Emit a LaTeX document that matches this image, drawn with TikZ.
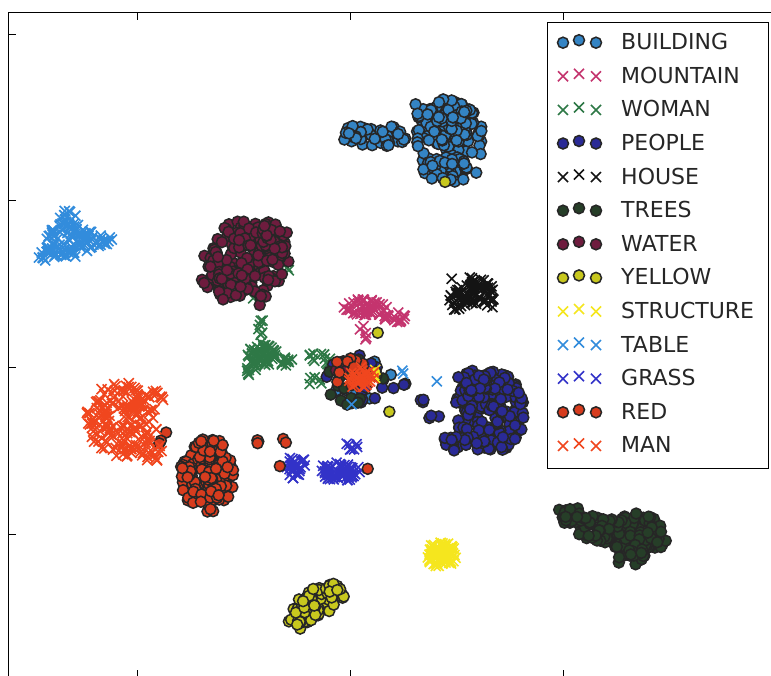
\documentclass[tikz,border=0pt]{standalone}
\usepackage{fontspec}
\setmainfont{DejaVu Sans}
\definecolor{buildingc}{RGB}{52,132,196}
\definecolor{mountainc}{RGB}{196,52,110}
\definecolor{womanc}{RGB}{46,120,70}
\definecolor{peoplec}{RGB}{42,42,150}
\definecolor{housec}{RGB}{20,20,20}
\definecolor{treesc}{RGB}{38,62,40}
\definecolor{waterc}{RGB}{110,28,62}
\definecolor{yellowc}{RGB}{200,200,30}
\definecolor{structurec}{RGB}{245,230,30}
\definecolor{tablec}{RGB}{50,140,220}
\definecolor{grassc}{RGB}{50,50,200}
\definecolor{redc}{RGB}{215,60,30}
\definecolor{manc}{RGB}{240,70,30}
\newcommand\mkdot[3]{\filldraw[dotmark=#1] (#2,#3) circle (5.5pt);}
\newcommand\mkcross[3]{\draw[crossmark=#1] (#2-5,#3-5) -- (#2+5,#3+5) (#2-5,#3+5) -- (#2+5,#3-5);}
\newcommand\blob[6]{\foreach \k in {1,...,#1}{%
  \pgfmathsetmacro\ang{360*rnd}%
  \pgfmathsetmacro\rad{sqrt(rnd)}%
  \pgfmathsetmacro\px{#2+#4*\rad*cos(\ang)}%
  \pgfmathsetmacro\py{#3+#5*\rad*sin(\ang)}%
  #6{\px}{\py}}}

\begin{document}
\begin{tikzpicture}[x=1pt,y=-1pt]
\tikzset{dotmark/.style={fill=#1,draw=black!85,line width=1.5pt},
crossmark/.style={draw=#1,line width=1.6pt},
legtext/.style={anchor=west,font=\fontsize{22}{26}\selectfont,text=black!85,inner sep=0pt}}
\pgfmathsetseed{17}
\useasboundingbox[fill=white] (0,0) rectangle (771,675);
\draw[line width=1pt] (8,12) rectangle (776,678);
\foreach \y in {34,200,367,534} \draw[line width=0.6pt] (8,\y) -- (16,\y);
\foreach \x in {137,350,563} \draw[line width=0.6pt] (\x,12) -- (\x,20) (\x,678) -- (\x,670);

\blob{150}{450}{138}{34}{37}{\mkdot{buildingc}}
\blob{35}{440}{110}{28}{13}{\mkdot{buildingc}}
\blob{30}{452}{170}{30}{12}{\mkdot{buildingc}}
\blob{45}{378}{136}{32}{11}{\mkdot{buildingc}}
\blob{8}{350}{135}{7}{10}{\mkdot{buildingc}}
\blob{12}{360}{378}{32}{22}{\mkdot{buildingc}}

\blob{45}{365}{308}{22}{9}{\mkcross{mountainc}}
\blob{18}{395}{318}{14}{7}{\mkcross{mountainc}}
\blob{5}{363}{335}{4}{12}{\mkcross{mountainc}}

\blob{55}{262}{355}{15}{13}{\mkcross{womanc}}
\blob{6}{248}{370}{8}{6}{\mkcross{womanc}}
\blob{10}{285}{362}{10}{5}{\mkcross{womanc}}
\blob{6}{262}{328}{4}{8}{\mkcross{womanc}}
\blob{5}{258}{295}{6}{6}{\mkcross{womanc}}
\blob{2}{290}{268}{3}{3}{\mkcross{womanc}}
\blob{12}{320}{360}{15}{7}{\mkcross{womanc}}
\blob{5}{316}{382}{7}{7}{\mkcross{womanc}}

\blob{180}{490}{412}{35}{41}{\mkdot{peoplec}}
\blob{25}{472}{382}{20}{12}{\mkdot{peoplec}}
\blob{18}{455}{442}{14}{10}{\mkdot{peoplec}}
\blob{3}{408}{383}{5}{5}{\mkdot{peoplec}}
\blob{3}{425}{400}{5}{5}{\mkdot{peoplec}}
\blob{3}{435}{418}{6}{5}{\mkdot{peoplec}}
\blob{18}{362}{378}{36}{26}{\mkdot{peoplec}}

\blob{55}{475}{290}{18}{14}{\mkcross{housec}}
\blob{18}{457}{300}{10}{10}{\mkcross{housec}}
\blob{10}{490}{300}{8}{8}{\mkcross{housec}}
\blob{1}{452}{278}{1}{1}{\mkcross{housec}}

\blob{110}{635}{535}{32}{22}{\mkdot{treesc}}
\blob{40}{600}{527}{25}{14}{\mkdot{treesc}}
\blob{20}{572}{515}{15}{10}{\mkdot{treesc}}
\blob{15}{630}{558}{15}{8}{\mkdot{treesc}}
\blob{18}{355}{382}{32}{24}{\mkdot{treesc}}

\blob{160}{245}{258}{44}{37}{\mkdot{waterc}}
\blob{25}{225}{285}{25}{15}{\mkdot{waterc}}
\blob{20}{275}{235}{15}{15}{\mkdot{waterc}}
\blob{5}{260}{300}{8}{6}{\mkdot{waterc}}
\blob{5}{340}{368}{8}{8}{\mkdot{waterc}}

\blob{28}{302}{614}{16}{15}{\mkdot{yellowc}}
\blob{32}{318}{602}{16}{14}{\mkdot{yellowc}}
\blob{15}{335}{591}{12}{9}{\mkdot{yellowc}}
\blob{1}{378}{332}{1}{1}{\mkdot{yellowc}}
\blob{1}{389}{412}{1}{1}{\mkdot{yellowc}}
\blob{1}{445}{182}{1}{1}{\mkdot{yellowc}}
\blob{3}{365}{372}{12}{8}{\mkdot{yellowc}}

\blob{80}{441}{555}{15}{13}{\mkcross{structurec}}
\blob{5}{372}{375}{8}{6}{\mkcross{structurec}}

\blob{80}{70}{240}{25}{17}{\mkcross{tablec}}
\blob{12}{68}{218}{8}{8}{\mkcross{tablec}}
\blob{18}{50}{255}{12}{7}{\mkcross{tablec}}
\blob{18}{98}{240}{14}{6}{\mkcross{tablec}}
\blob{1}{352}{404}{1}{1}{\mkcross{tablec}}
\blob{2}{405}{372}{4}{2}{\mkcross{tablec}}
\blob{1}{437}{381}{1}{1}{\mkcross{tablec}}

\blob{28}{296}{467}{10}{13}{\mkcross{grassc}}
\blob{60}{340}{472}{22}{10}{\mkcross{grassc}}
\blob{7}{350}{446}{8}{4}{\mkcross{grassc}}

\blob{120}{207}{477}{27}{36}{\mkdot{redc}}
\blob{18}{210}{450}{15}{12}{\mkdot{redc}}
\blob{3}{262}{443}{6}{5}{\mkdot{redc}}
\blob{2}{285}{440}{4}{4}{\mkdot{redc}}
\blob{3}{162}{435}{8}{12}{\mkdot{redc}}
\blob{1}{280}{467}{1}{1}{\mkdot{redc}}
\blob{1}{367}{469}{1}{1}{\mkdot{redc}}
\blob{14}{352}{372}{20}{16}{\mkdot{redc}}

\blob{160}{122}{420}{36}{38}{\mkcross{manc}}
\blob{20}{150}{400}{15}{12}{\mkcross{manc}}
\blob{15}{150}{452}{12}{12}{\mkcross{manc}}
\blob{30}{362}{378}{14}{12}{\mkcross{manc}}

\draw[line width=0.8pt,fill=white] (547,22) rectangle (768,468);
\foreach \name/\col/\mk [count=\i] in {BUILDING/buildingc/\mkdot,MOUNTAIN/mountainc/\mkcross,
WOMAN/womanc/\mkcross,PEOPLE/peoplec/\mkdot,HOUSE/housec/\mkcross,TREES/treesc/\mkdot,
WATER/waterc/\mkdot,YELLOW/yellowc/\mkdot,STRUCTURE/structurec/\mkcross,TABLE/tablec/\mkcross,
GRASS/grassc/\mkcross,RED/redc/\mkdot,MAN/manc/\mkcross}{
  \pgfmathsetmacro\ly{41.7+33.6*(\i-1)}
  \mk{\col}{563}{\ly+1}
  \mk{\col}{579}{\ly-1.5}
  \mk{\col}{596}{\ly+1}
  \node[legtext] (leg\i) at (621,\ly) {\name};
}
\end{tikzpicture}
\end{document}
